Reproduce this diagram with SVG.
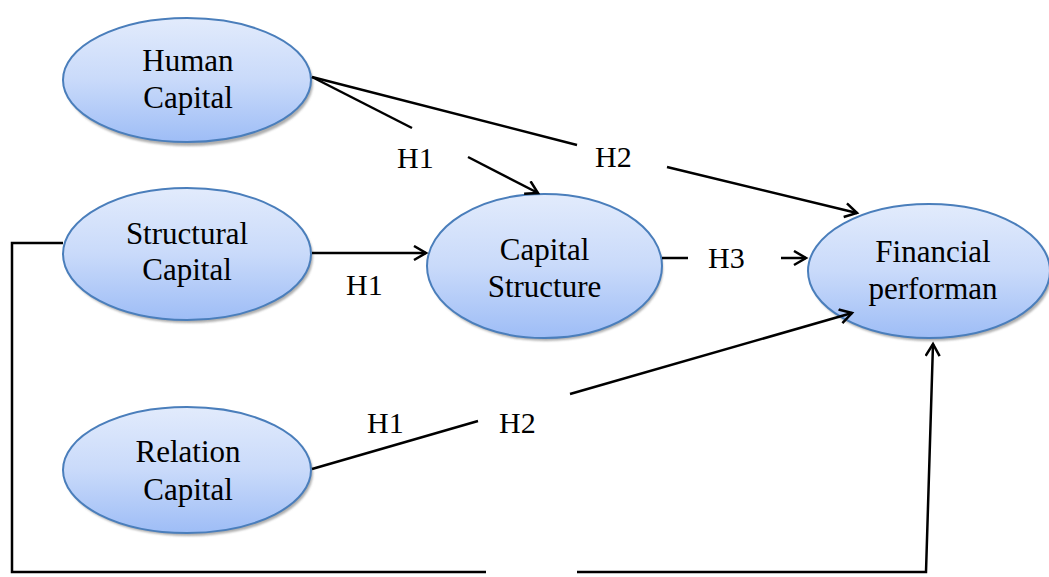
<svg xmlns="http://www.w3.org/2000/svg" width="1049" height="577" viewBox="0 0 1049 577">
<style>
.node{fill:url(#g);stroke:#4a7ebb;stroke-width:2}
.sh{fill:#9a9a9a;opacity:0.8}
.t{font-family:"Liberation Serif","Times New Roman",serif;font-size:31px;fill:#000;text-anchor:middle}
.lb{font-family:"Liberation Serif","Times New Roman",serif;font-size:30px;fill:#000}
.c{fill:none;stroke:#000;stroke-width:2.5}
</style>
<defs>
<linearGradient id="g" x1="0" y1="0" x2="0" y2="1">
<stop offset="0" stop-color="#e2ebfc"/>
<stop offset="0.5" stop-color="#c9dafa"/>
<stop offset="1" stop-color="#9ebdf6"/>
</linearGradient>
<filter id="blur" x="-10%" y="-10%" width="120%" height="130%"><feGaussianBlur stdDeviation="1.2"/></filter>
<marker id="a" markerUnits="userSpaceOnUse" markerWidth="20" markerHeight="20" refX="14" refY="8" orient="auto">
<path d="M2,1 L14,8 L2,15" fill="none" stroke="#000" stroke-width="2.5"/>
</marker>
</defs>
<g id="human-capital">
<ellipse class="sh" cx="189" cy="83" rx="124" ry="63" filter="url(#blur)"/>
<ellipse class="node" cx="187" cy="80" rx="124" ry="62"/>
<text class="t" x="188" y="71">Human</text>
<text class="t" x="188" y="108">Capital</text>
</g>
<g id="structural-capital">
<ellipse class="sh" cx="189" cy="257" rx="124" ry="66" filter="url(#blur)"/>
<ellipse class="node" cx="187" cy="254" rx="124" ry="66"/>
<text class="t" x="187" y="244">Structural</text>
<text class="t" x="187" y="280">Capital</text>
</g>
<g id="relation-capital">
<ellipse class="sh" cx="189" cy="473" rx="124" ry="63" filter="url(#blur)"/>
<ellipse class="node" cx="187" cy="470" rx="124" ry="63"/>
<text class="t" x="188" y="462">Relation</text>
<text class="t" x="188" y="500">Capital</text>
</g>
<g id="capital-structure">
<ellipse class="sh" cx="546" cy="269" rx="117" ry="72" filter="url(#blur)"/>
<ellipse class="node" cx="544.5" cy="266" rx="117.5" ry="72"/>
<text class="t" x="544.5" y="260">Capital</text>
<text class="t" x="544.5" y="297">Structure</text>
</g>
<g id="financial-performance">
<ellipse class="sh" cx="931" cy="274" rx="121" ry="67" filter="url(#blur)"/>
<ellipse class="node" cx="929" cy="271" rx="121" ry="67"/>
<text class="t" x="933" y="262">Financial</text>
<text class="t" x="933" y="299">performan</text>
</g>
<g id="connectors">
<line class="c" x1="312" y1="77" x2="412" y2="128"/>
<line class="c" x1="468" y1="157" x2="538" y2="193" marker-end="url(#a)"/>
<line class="c" x1="312" y1="77" x2="577" y2="145"/>
<line class="c" x1="667" y1="167" x2="857" y2="213" marker-end="url(#a)"/>
<line class="c" x1="312" y1="253" x2="426" y2="253" marker-end="url(#a)"/>
<line class="c" x1="662" y1="258" x2="688" y2="258"/>
<line class="c" x1="781" y1="258" x2="806" y2="258" marker-end="url(#a)"/>
<line class="c" x1="312" y1="469" x2="478" y2="421"/>
<line class="c" x1="570" y1="394" x2="852" y2="313" marker-end="url(#a)"/>
<polyline class="c" points="63,243 12,243 12,572 486,572"/>
<polyline class="c" points="577,572 926,572 933,344" marker-end="url(#a)"/>
</g>
<g id="labels">
<text class="lb" x="397" y="168">H1</text>
<text class="lb" x="595" y="167">H2</text>
<text class="lb" x="346" y="295">H1</text>
<text class="lb" x="708" y="268">H3</text>
<text class="lb" x="367" y="433">H1</text>
<text class="lb" x="499" y="433">H2</text>
</g>
</svg>
